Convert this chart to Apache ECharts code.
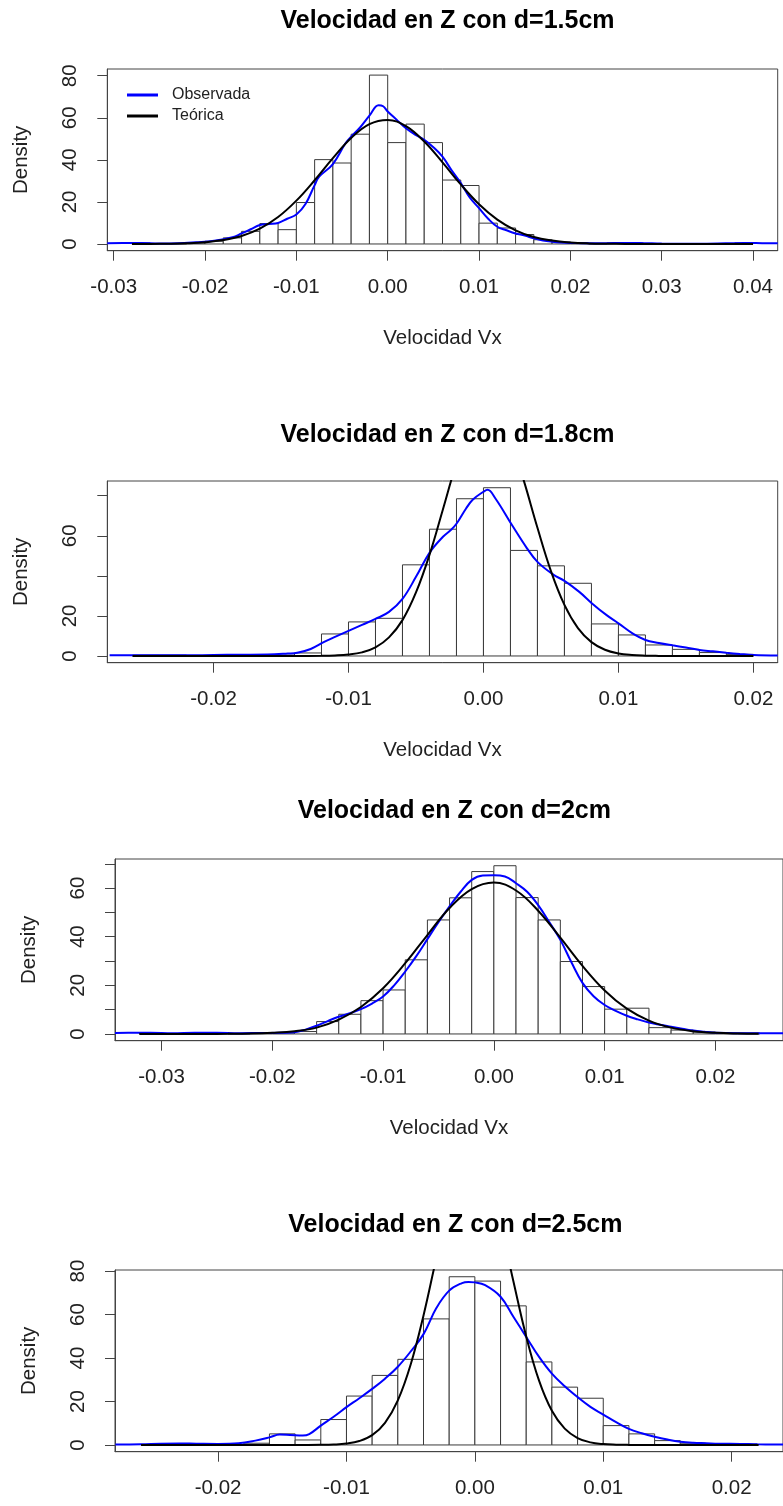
<!DOCTYPE html>
<html>
<head>
<meta charset="utf-8">
<script src="https://cdn.jsdelivr.net/npm/echarts@6/dist/echarts.min.js"></script>
<style>html,body{margin:0;padding:0;background:#fff}#c{width:783px;height:1506px}</style>
</head>
<body>
<div id="c"></div>
<script>
// ---------- data ----------
const titles = ['Velocidad en Z con d=1.5cm', 'Velocidad en Z con d=1.8cm', 'Velocidad en Z con d=2cm', 'Velocidad en Z con d=2.5cm'];
const xName = 'Velocidad Vx';
const yName = 'Density';
const binWidth = 0.002;

const hist1Start = -0.028;
const hist1 = [0.5,0,0,0.5,1.3,2.9,6,9.7,6.8,19.7,40.1,38.5,52.2,80.3,48.2,57,48.2,30.4,27.8,9.9,7.6,4.5,2,1,0.5,0,0.5,0.5,0,0,0,0,0,0.5];
const hist2Start = -0.026;
const hist2 = [0.4,0.4,0,0.4,0.4,0.4,1.5,11,17,18.8,45.5,63.3,78.5,84,52.7,45,36.3,16,10.5,5.5,3.3,1.7,0.8];
const hist3Start = -0.032;
const hist3 = [0.4,0,0.4,0.4,0,0.4,0.4,1,5.1,8.1,13.7,18.1,30.5,46.9,56,66.8,69.2,56.1,46.9,29.8,19.5,10.2,10.6,2.6,1.6,0.8,0.4,0.4];
const hist4Start = -0.026;
const hist4 = [0,0.5,0,0,0.8,5.1,2.3,11.7,22.5,32,39.4,58,77.4,75.4,64,38.2,26.6,21.5,8.9,5.1,2,0.8,0.4,0.4];

const obs1 = [[-0.0307,0.4],[-0.029,0.5],[-0.027,0.5],[-0.025,0.2],[-0.023,0.3],[-0.021,0.8],[-0.019,1.5],[-0.017,3.2],[-0.016,5],[-0.015,7],[-0.014,9],[-0.013,9.5],[-0.012,10],[-0.011,12],[-0.010,14],[-0.009,19],[-0.008,28],[-0.0075,32],[-0.006,38],[-0.0046,48],[-0.004,51],[-0.003,55.5],[-0.002,61],[-0.001,66],[-0.0005,65.5],[0,63],[0.001,59],[0.002,55],[0.003,52],[0.004,49.5],[0.005,46],[0.006,41.5],[0.007,35],[0.008,29],[0.009,22],[0.010,17],[0.011,12],[0.012,8.2],[0.013,6.5],[0.014,5],[0.015,4],[0.016,2.7],[0.017,1.7],[0.018,1.1],[0.019,0.7],[0.020,0.5],[0.022,0.3],[0.024,0.4],[0.026,0.5],[0.028,0.4],[0.030,0.2],[0.034,0.1],[0.037,0.3],[0.039,0.5],[0.041,0.4],[0.0427,0.3]];
const theo1 = [[-0.028,0],[-0.026,0.04],[-0.024,0.12],[-0.022,0.33],[-0.020,0.81],[-0.018,1.84],[-0.016,3.8],[-0.014,7.3],[-0.012,12.8],[-0.010,20.6],[-0.008,30.3],[-0.006,40.8],[-0.004,50.4],[-0.002,57],[0,59],[0.002,56],[0.004,48.7],[0.006,38.8],[0.008,28.3],[0.010,18.9],[0.012,11.6],[0.014,6.5],[0.016,3.3],[0.018,1.6],[0.020,0.7],[0.022,0.27],[0.024,0.1],[0.026,0.03],[0.030,0],[0.035,0],[0.040,0]];

const obs2 = [[-0.0277,0.3],[-0.026,0.4],[-0.024,0.4],[-0.022,0.3],[-0.020,0.5],[-0.018,0.6],[-0.016,0.7],[-0.0145,1.2],[-0.0138,1.6],[-0.0128,3.5],[-0.0118,7],[-0.011,9.5],[-0.010,12.5],[-0.009,15.5],[-0.008,18.5],[-0.007,22],[-0.006,28.5],[-0.005,39.5],[-0.004,51.5],[-0.003,59.5],[-0.0024,63],[-0.002,66],[-0.0013,73.5],[-0.0008,78],[0,82],[0.0003,83],[0.0009,78.5],[0.0021,65.5],[0.0032,54],[0.004,47],[0.0052,40.5],[0.006,37.5],[0.0071,32],[0.008,26.5],[0.0091,20.5],[0.010,16.3],[0.0111,11],[0.012,8],[0.013,6.5],[0.014,5.3],[0.015,4.2],[0.016,3],[0.017,2.3],[0.018,1.6],[0.019,1],[0.020,0.5],[0.0218,0.2]];
const theo2 = [[-0.026,0],[-0.020,0],[-0.014,0],[-0.012,0.08],[-0.011,0.25],[-0.010,0.7],[-0.009,1.8],[-0.008,4.3],[-0.007,9.3],[-0.006,17.9],[-0.005,31.7],[-0.004,50.5],[-0.003,73.3],[-0.002,96.3],[-0.001,114.8],[0,124.2],[0.001,121.7],[0.002,108.3],[0.003,87.3],[0.004,64],[0.005,42.4],[0.006,25.5],[0.007,13.9],[0.008,6.9],[0.009,3.1],[0.010,1.25],[0.011,0.46],[0.012,0.15],[0.013,0.04],[0.014,0],[0.020,0]];

const obs3 = [[-0.0342,0.4],[-0.033,0.5],[-0.031,0.5],[-0.029,0.3],[-0.027,0.5],[-0.025,0.5],[-0.023,0.3],[-0.021,0.4],[-0.019,0.5],[-0.018,0.7],[-0.017,1.8],[-0.016,3.4],[-0.015,5.3],[-0.014,7.1],[-0.013,8.5],[-0.012,10.2],[-0.011,12.5],[-0.010,15.4],[-0.009,20],[-0.008,25.7],[-0.007,32],[-0.006,39],[-0.005,46],[-0.004,52.5],[-0.003,58.5],[-0.002,63.4],[-0.001,65.2],[0,65.3],[0.001,64.8],[0.002,62],[0.003,58.5],[0.004,53],[0.005,46],[0.006,38.7],[0.007,29.5],[0.008,21],[0.009,15.5],[0.010,11.9],[0.011,9.5],[0.012,7.5],[0.013,6],[0.014,4.7],[0.015,3.8],[0.016,3],[0.017,2.2],[0.018,1.4],[0.019,0.9],[0.020,0.5],[0.022,0.3],[0.024,0.3],[0.0261,0.3]];
const theo3 = [[-0.032,0],[-0.028,0],[-0.026,0.02],[-0.024,0.05],[-0.022,0.16],[-0.020,0.5],[-0.018,1.14],[-0.016,2.6],[-0.014,5.9],[-0.012,11.1],[-0.010,18.8],[-0.008,29.1],[-0.006,40.7],[-0.004,51.8],[-0.002,59.6],[0,62.3],[0.002,59],[0.004,50.7],[0.006,39.6],[0.008,28],[0.010,17.9],[0.012,10.4],[0.014,5.5],[0.016,2.6],[0.018,1.14],[0.020,0.45],[0.022,0.16],[0.0239,0.05]];

const obs4 = [[-0.028,0.2],[-0.026,0.3],[-0.0245,0.6],[-0.023,0.7],[-0.0217,0.6],[-0.020,0.5],[-0.0184,0.8],[-0.0171,2],[-0.016,3.5],[-0.0152,4.8],[-0.0144,4.6],[-0.0134,4.3],[-0.0129,5],[-0.012,8.9],[-0.011,13],[-0.010,17.4],[-0.009,21.5],[-0.008,25.8],[-0.007,30.5],[-0.006,36],[-0.005,43],[-0.004,51],[-0.003,63],[-0.002,71],[-0.001,74.5],[-0.0005,75],[0,74.8],[0.0008,73.5],[0.002,68.2],[0.003,59],[0.004,49.7],[0.005,40.5],[0.006,32.8],[0.007,27],[0.008,22],[0.009,17.5],[0.010,14],[0.011,10.5],[0.012,7.4],[0.013,5.4],[0.014,3.8],[0.015,2.5],[0.016,1.5],[0.017,1],[0.018,0.8],[0.019,0.6],[0.0207,0.5],[0.022,0.3],[0.024,0.2]];
const theo4 = [[-0.026,0],[-0.020,0],[-0.014,0],[-0.012,0.06],[-0.011,0.2],[-0.010,0.64],[-0.009,1.8],[-0.008,4.5],[-0.007,10.2],[-0.006,20.5],[-0.005,37],[-0.004,59.6],[-0.003,86],[-0.002,111],[-0.001,128.4],[0,132.7],[0.001,122.8],[0.002,101.6],[0.003,75.3],[0.004,49.9],[0.005,29.6],[0.006,15.7],[0.007,7.5],[0.008,3.2],[0.009,1.2],[0.010,0.4],[0.011,0.13],[0.012,0.04],[0.014,0],[0.0221,0]];

const xTicks1 = [-0.03,-0.02,-0.01,0,0.01,0.02,0.03,0.04];
const xTicks2 = [-0.02,-0.01,0,0.01,0.02];
const xTicks3 = [-0.03,-0.02,-0.01,0,0.01,0.02];
const xTicks4 = [-0.02,-0.01,0,0.01,0.02];
const yTicks1 = [0,20,40,60,80], yLabels1 = [0,20,40,60,80];
const yTicks2 = [0,20,40,60,80], yLabels2 = [0,20,60];
const yTicks3 = [0,10,20,30,40,50,60,70], yLabels3 = [0,20,40,60];
const yTicks4 = [0,20,40,60,80], yLabels4 = [0,20,40,60,80];

// ---------- layout ----------
const panels = [
  {grid:{left:107.3, top:69, width:670.4, height:181.7}, x:[-0.0307,0.0427], y:[-3.2,83.2], hs:hist1Start, h:hist1, obs:obs1, theo:theo1, xt:xTicks1, yt:yTicks1, yl:yLabels1, titleTop:4, xname:true},
  {grid:{left:107.3, top:481, width:670.4, height:181.7}, x:[-0.02787,0.0218], y:[-3.36,87.36], hs:hist2Start, h:hist2, obs:obs2, theo:theo2, xt:xTicks2, yt:yTicks2, yl:yLabels2, titleTop:418, xname:true},
  {grid:{left:115, top:859, width:668.7, height:181.7}, x:[-0.0342,0.0261], y:[-2.77,71.97], hs:hist3Start, h:hist3, obs:obs3, theo:theo3, xt:xTicks3, yt:yTicks3, yl:yLabels3, titleTop:794, xname:true},
  {grid:{left:115, top:1270, width:670.7, height:181.7}, x:[-0.02803,0.0240], y:[-3.1,80.5], hs:hist4Start, h:hist4, obs:obs4, theo:theo4, xt:xTicks4, yt:yTicks4, yl:yLabels4, titleTop:1208, xname:false}
];

const FONT = 'Liberation Sans, Arial, Helvetica, sans-serif';
const axisColor = '#444';
const textColor = '#222';

const option = {
  animation: false,
  backgroundColor: '#fff',
  textStyle: {fontFamily: FONT},
  title: [], grid: [], xAxis: [], yAxis: [], series: [],
  legend: {
    data: ['Observada', 'Teórica'],
    orient: 'vertical', left: 122, top: 81,
    itemWidth: 31, itemHeight: 3, itemGap: 3, icon: 'rect',
    textStyle: {fontSize: 16, color: textColor, fontFamily: FONT, lineHeight: 18, padding: [0,0,0,9]},
    selectedMode: false
  }
};

panels.forEach((p, i) => {
  option.title.push({
    text: titles[i], left: p.grid.left + p.grid.width / 2, top: p.titleTop, textAlign: 'center',
    textStyle: {fontSize: 25, fontWeight: 'bold', color: '#000', fontFamily: FONT}
  });
  option.grid.push(Object.assign({show: true, borderColor: axisColor, borderWidth: 1, backgroundColor: 'transparent'}, p.grid));
  option.xAxis.push({
    type: 'value', gridIndex: i, min: p.x[0], max: p.x[1],
    name: p.xname ? xName : '', nameLocation: 'middle', nameGap: 77,
    nameTextStyle: {fontSize: 20.5, color: textColor, fontFamily: FONT},
    axisLine: {show: true, onZero: false, lineStyle: {color: axisColor, width: 1}},
    axisTick: {show: true, length: 10, lineStyle: {color: axisColor}, customValues: p.xt},
    axisLabel: {show: true, fontSize: 20.5, color: textColor, margin: 26, customValues: p.xt, formatter: v => v.toFixed(2)},
    splitLine: {show: false}
  });
  option.yAxis.push({
    type: 'value', gridIndex: i, min: p.y[0], max: p.y[1],
    name: yName, nameLocation: 'middle', nameGap: 75, nameRotate: 90,
    nameTextStyle: {fontSize: 20.5, color: textColor, fontFamily: FONT},
    axisLine: {show: true, onZero: false, lineStyle: {color: axisColor, width: 1}},
    axisTick: {show: true, length: 10, lineStyle: {color: axisColor}, customValues: p.yt},
    axisLabel: {show: true, fontSize: 20.5, color: textColor, margin: 26, rotate: 90, customValues: p.yl, formatter: v => String(Math.round(v))},
    splitLine: {show: false}
  });
  const bins = p.h.map((v, k) => [p.hs + k * binWidth, p.hs + (k + 1) * binWidth, v]);
  option.series.push({
    type: 'custom', xAxisIndex: i, yAxisIndex: i, data: bins, silent: true,
    encode: {x: [0, 1], y: 2},
    renderItem: function (params, api) {
      const a = api.coord([api.value(0), api.value(2)]);
      const b = api.coord([api.value(1), 0]);
      return {type: 'rect', shape: {x: a[0], y: a[1], width: b[0] - a[0], height: b[1] - a[1]},
              style: {fill: '#fff', stroke: '#3a3a3a', lineWidth: 1}};
    },
    z: 1
  });
  option.series.push({
    name: 'Observada', type: 'line', xAxisIndex: i, yAxisIndex: i, data: p.obs,
    smooth: 0.4, showSymbol: false, clip: true, silent: true,
    lineStyle: {color: '#0000ff', width: 2}, itemStyle: {color: '#0000ff'}, z: 3
  });
  option.series.push({
    name: 'Teórica', type: 'line', xAxisIndex: i, yAxisIndex: i, data: p.theo,
    smooth: 0.4, showSymbol: false, clip: true, silent: true,
    lineStyle: {color: '#000', width: 2}, itemStyle: {color: '#000'}, z: 4
  });
});

const chart = echarts.init(document.getElementById('c'), null, {renderer: 'canvas'});
chart.setOption(option);
</script>
</body>
</html>
